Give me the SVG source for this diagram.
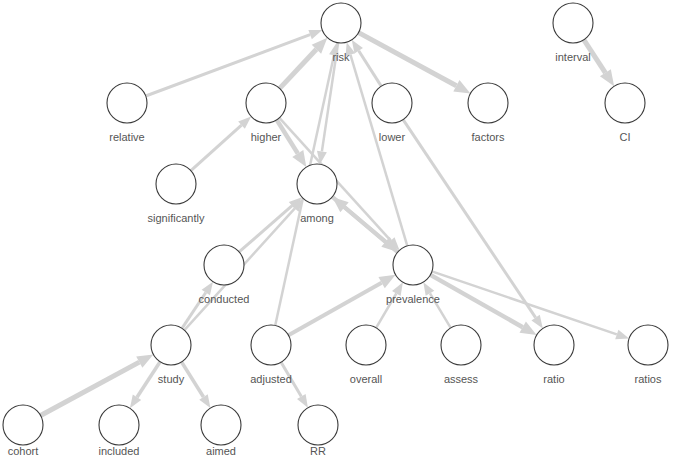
<svg xmlns="http://www.w3.org/2000/svg" width="673" height="466" viewBox="0 0 673 466">
<style>
.e{fill:none;stroke:#d3d3d3;stroke-linecap:butt}
.s{marker-end:url(#ah)}
.b{marker-end:url(#ahb)}
.n circle{fill:#fff;stroke:#3a3a3a;stroke-width:1.1}
.n text{font-family:"Liberation Sans",Arial,sans-serif;font-size:11px;fill:#555;text-anchor:middle}
</style>
<defs>
<marker id="ah" markerUnits="userSpaceOnUse" markerWidth="20" markerHeight="20" refX="0" refY="0" viewBox="-1 -10 20 20" orient="auto" overflow="visible"><path d="M0,-5 L13,0 L0,5 z" fill="#d3d3d3"/></marker>
<marker id="ahb" markerUnits="userSpaceOnUse" markerWidth="20" markerHeight="20" refX="0" refY="0" viewBox="-1 -10 20 20" orient="auto" overflow="visible"><path d="M0,-6.5 L16,0 L0,6.5 z" fill="#d3d3d3"/></marker>
</defs>
<rect width="673" height="466" fill="#fff"/>
<g id="edges">
<path class="e s" stroke-width="3" d="M145.7,96.0 L310.1,34.6"/>
<path class="e b" stroke-width="5" d="M279.7,88.4 L316.4,49.3"/>
<path class="e b" stroke-width="5" d="M358.6,32.6 L456.4,85.8"/>
<path class="e s" stroke-width="2.5" d="M338.1,42.8 L321.9,151.4"/>
<path class="e s" stroke-width="3" d="M381.2,86.1 L358.7,50.8"/>
<path class="e s" stroke-width="2.5" d="M407.3,245.8 L350.4,54.6"/>
<path class="e s" stroke-width="3" d="M190.9,170.6 L241.5,125.1"/>
<path class="e b" stroke-width="4.5" d="M276.7,119.9 L297.8,153.5"/>
<path class="e s" stroke-width="2.5" d="M279.4,117.8 L390.8,240.6"/>
<path class="e b" stroke-width="4" d="M332.3,196.9 L385.5,241.8"/>
<path class="e b" stroke-width="4" d="M397.7,252.1 L344.5,207.2"/>
<path class="e s" stroke-width="3" d="M239.1,251.9 L292.1,205.7"/>
<path class="e s" stroke-width="2.5" d="M184.4,330.2 L294.8,208.4"/>
<path class="e s" stroke-width="3" d="M182.0,328.3 L205.8,292.5"/>
<path class="e s" stroke-width="2.5" d="M275.2,325.5 L334.0,55.2"/>
<path class="e b" stroke-width="4" d="M288.4,335.2 L381.6,282.7"/>
<path class="e s" stroke-width="3" d="M281.1,362.2 L301.3,396.5"/>
<path class="e b" stroke-width="5" d="M40.6,415.5 L139.3,362.1"/>
<path class="e s" stroke-width="3.5" d="M160.1,361.8 L137.0,397.3"/>
<path class="e s" stroke-width="3.5" d="M181.6,362.0 L203.5,397.0"/>
<path class="e s" stroke-width="2.5" d="M376.1,327.8 L396.3,293.5"/>
<path class="e s" stroke-width="2.5" d="M450.7,327.9 L430.0,293.3"/>
<path class="e b" stroke-width="4.5" d="M430.4,274.9 L522.7,327.2"/>
<path class="e s" stroke-width="2.5" d="M431.9,271.4 L616.8,334.4"/>
<path class="e s" stroke-width="3" d="M403.1,119.6 L535.6,317.6"/>
<path class="e b" stroke-width="5" d="M583.9,39.8 L605.4,72.8"/>
</g>
<g id="risk" class="n"><circle cx="341" cy="23" r="20"/><text x="341" y="60.5">risk</text></g>
<g id="interval" class="n"><circle cx="573" cy="23" r="20"/><text x="573" y="60.5">interval</text></g>
<g id="relative" class="n"><circle cx="127" cy="103" r="20"/><text x="127" y="140.5">relative</text></g>
<g id="higher" class="n"><circle cx="266" cy="103" r="20"/><text x="266" y="140.5">higher</text></g>
<g id="lower" class="n"><circle cx="392" cy="103" r="20"/><text x="392" y="140.5">lower</text></g>
<g id="factors" class="n"><circle cx="488" cy="103" r="20"/><text x="488" y="140.5">factors</text></g>
<g id="CI" class="n"><circle cx="625" cy="103" r="20"/><text x="625" y="140.5">CI</text></g>
<g id="significantly" class="n"><circle cx="176" cy="184" r="20"/><text x="176" y="221.5">significantly</text></g>
<g id="among" class="n"><circle cx="317" cy="184" r="20"/><text x="317" y="221.5">among</text></g>
<g id="conducted" class="n"><circle cx="224" cy="265" r="20"/><text x="224" y="302.5">conducted</text></g>
<g id="prevalence" class="n"><circle cx="413" cy="265" r="20"/><text x="413" y="302.5">prevalence</text></g>
<g id="study" class="n"><circle cx="171" cy="345" r="20"/><text x="171" y="382.5">study</text></g>
<g id="adjusted" class="n"><circle cx="271" cy="345" r="20"/><text x="271" y="382.5">adjusted</text></g>
<g id="overall" class="n"><circle cx="366" cy="345" r="20"/><text x="366" y="382.5">overall</text></g>
<g id="assess" class="n"><circle cx="461" cy="345" r="20"/><text x="461" y="382.5">assess</text></g>
<g id="ratio" class="n"><circle cx="554" cy="345" r="20"/><text x="554" y="382.5">ratio</text></g>
<g id="ratios" class="n"><circle cx="648" cy="345" r="20"/><text x="648" y="382.5">ratios</text></g>
<g id="cohort" class="n"><circle cx="23" cy="425" r="20"/><text x="23" y="455">cohort</text></g>
<g id="included" class="n"><circle cx="119" cy="425" r="20"/><text x="119" y="455">included</text></g>
<g id="aimed" class="n"><circle cx="221" cy="425" r="20"/><text x="221" y="455">aimed</text></g>
<g id="RR" class="n"><circle cx="318" cy="425" r="20"/><text x="318" y="455">RR</text></g>
</svg>
